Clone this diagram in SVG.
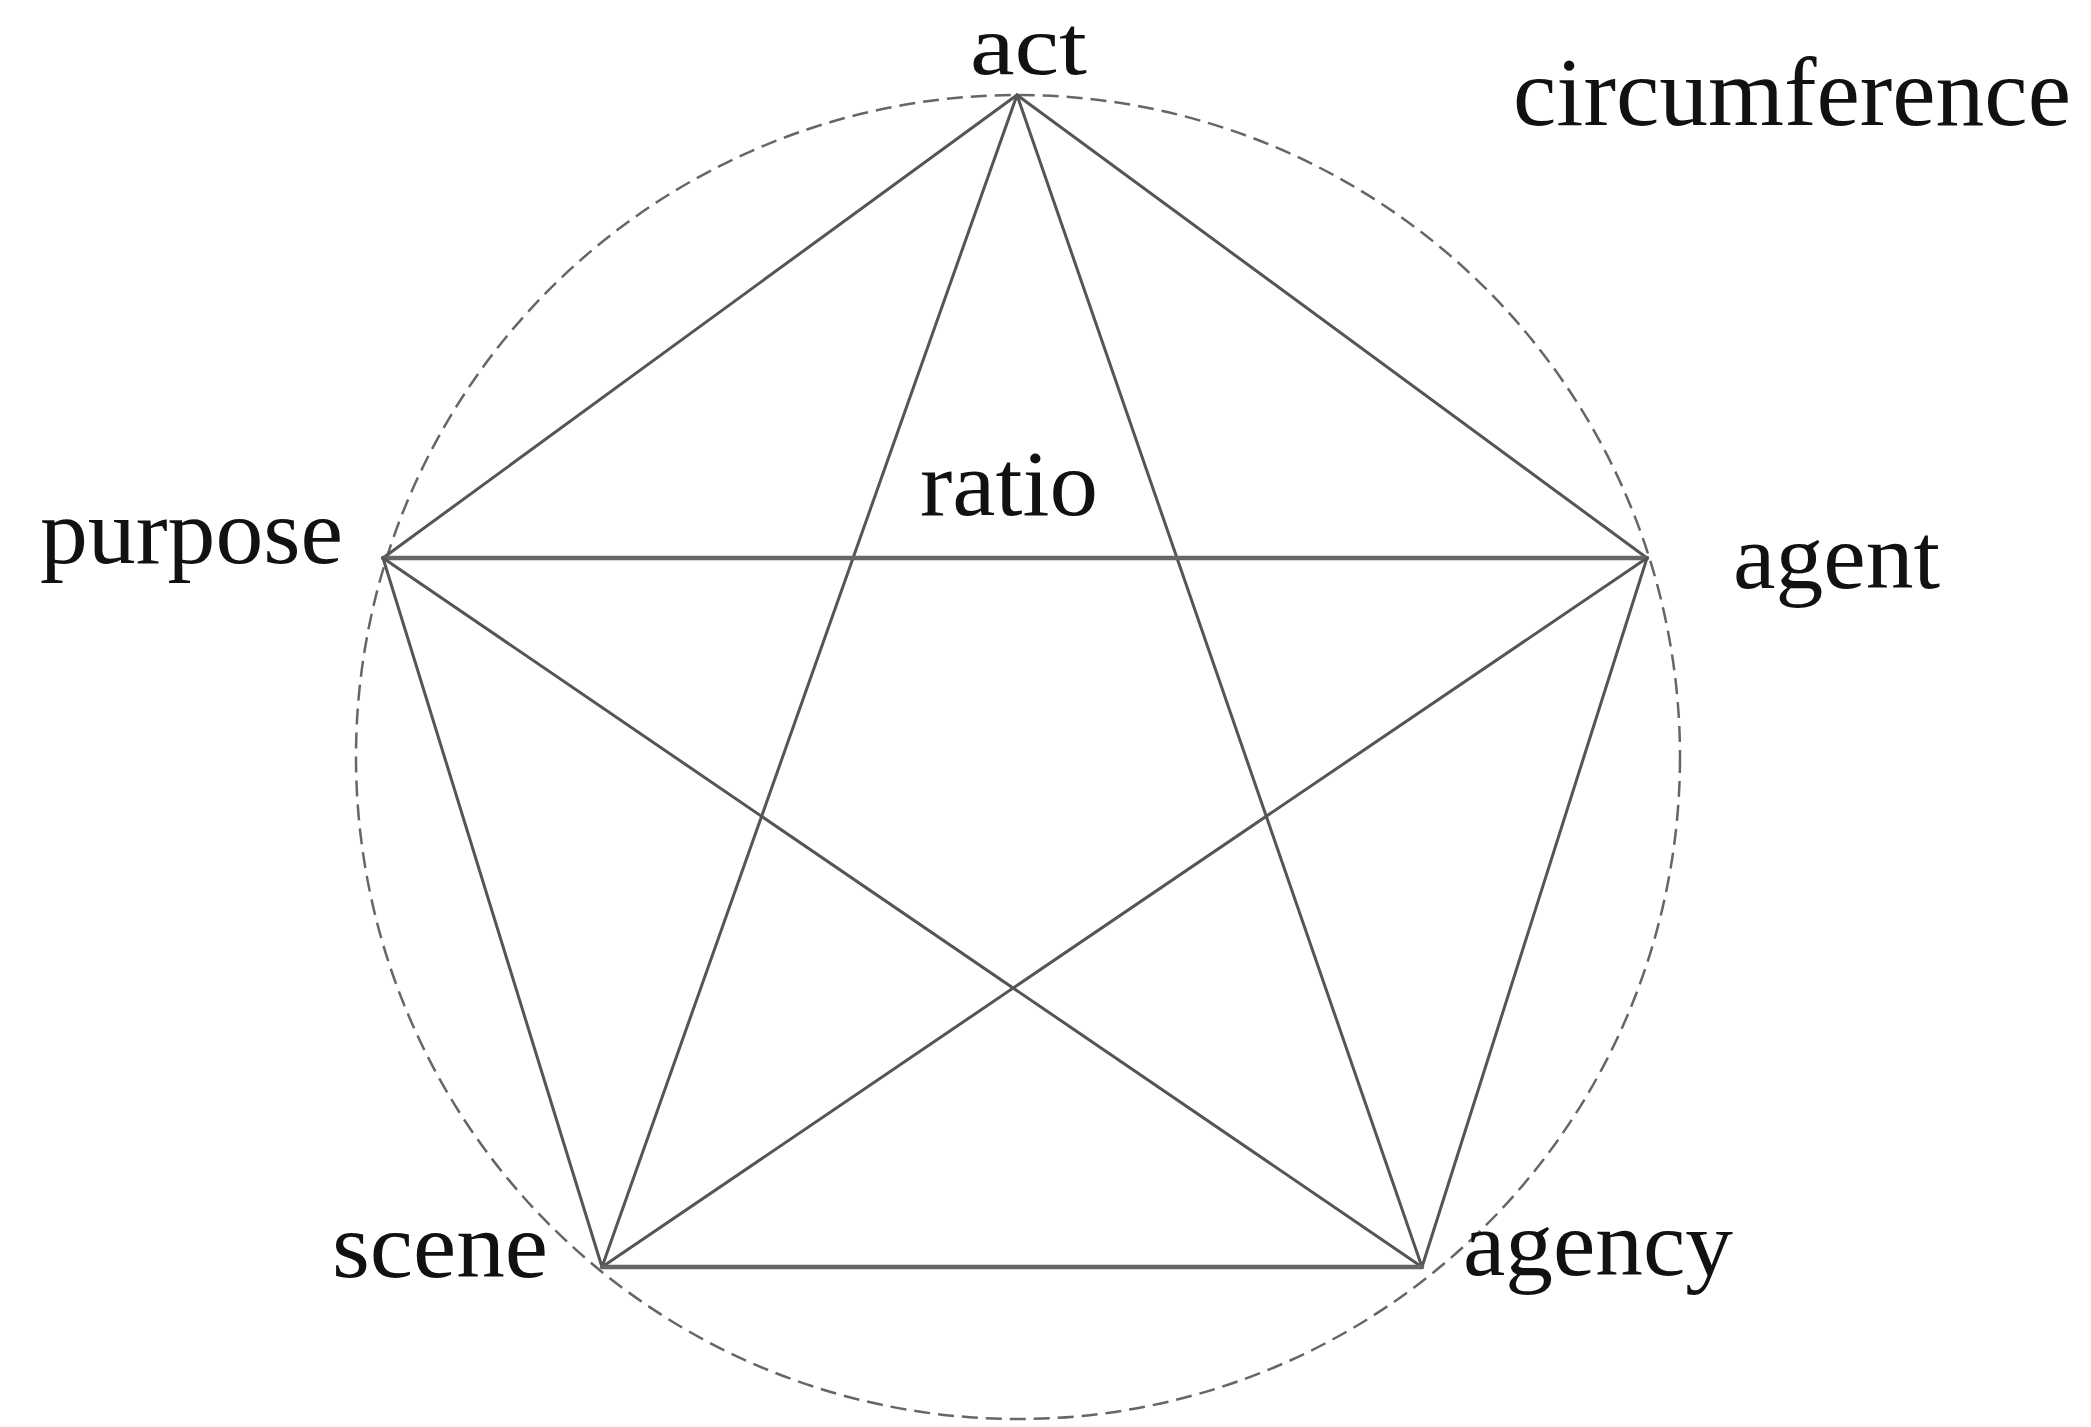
<svg xmlns="http://www.w3.org/2000/svg" width="2091" height="1427" viewBox="0 0 2091 1427">
<style>
.lbl{font-family:"Liberation Serif","Times New Roman",serif;font-size:94px;fill:#111}
.edge{stroke:#555;stroke-width:3;stroke-linecap:round;fill:none}
.thick{stroke:#666;stroke-width:4.5}
.circ{stroke:#666;stroke-width:2.5;fill:none;stroke-dasharray:16 8}
</style>
<rect width="2091" height="1427" fill="#fff"/>
<g id="circumference-circle"><circle class="circ" cx="1018" cy="757" r="662"/></g>
<g id="connectors">
<line class="edge" x1="1017" y1="95" x2="383" y2="558"/>
<line class="edge" x1="1017" y1="95" x2="1647" y2="558"/>
<line class="edge" x1="1017" y1="95" x2="602" y2="1267"/>
<line class="edge" x1="1017" y1="95" x2="1422" y2="1267"/>
<line class="edge thick" x1="383" y1="558" x2="1647" y2="558"/>
<line class="edge" x1="383" y1="558" x2="602" y2="1267"/>
<line class="edge" x1="383" y1="558" x2="1422" y2="1267"/>
<line class="edge" x1="1647" y1="558" x2="602" y2="1267"/>
<line class="edge" x1="1647" y1="558" x2="1422" y2="1267"/>
<line class="edge thick" x1="602" y1="1267" x2="1422" y2="1267"/>
</g>
<g id="act"><text class="lbl" x="970" y="74" style="font-size:84px" textLength="117" lengthAdjust="spacingAndGlyphs">act</text></g>
<g id="purpose"><text class="lbl" x="40" y="563" textLength="303" lengthAdjust="spacingAndGlyphs">purpose</text></g>
<g id="agent"><text class="lbl" x="1733" y="588" textLength="207" lengthAdjust="spacingAndGlyphs">agent</text></g>
<g id="scene"><text class="lbl" x="332" y="1277" textLength="216" lengthAdjust="spacingAndGlyphs">scene</text></g>
<g id="agency"><text class="lbl" x="1463" y="1275" textLength="270" lengthAdjust="spacingAndGlyphs">agency</text></g>
<g id="ratio"><text class="lbl" x="920" y="515" textLength="178" lengthAdjust="spacingAndGlyphs">ratio</text></g>
<g id="circumference"><text class="lbl" x="1513" y="125" style="font-size:98px" textLength="558" lengthAdjust="spacingAndGlyphs">circumference</text></g>
</svg>
